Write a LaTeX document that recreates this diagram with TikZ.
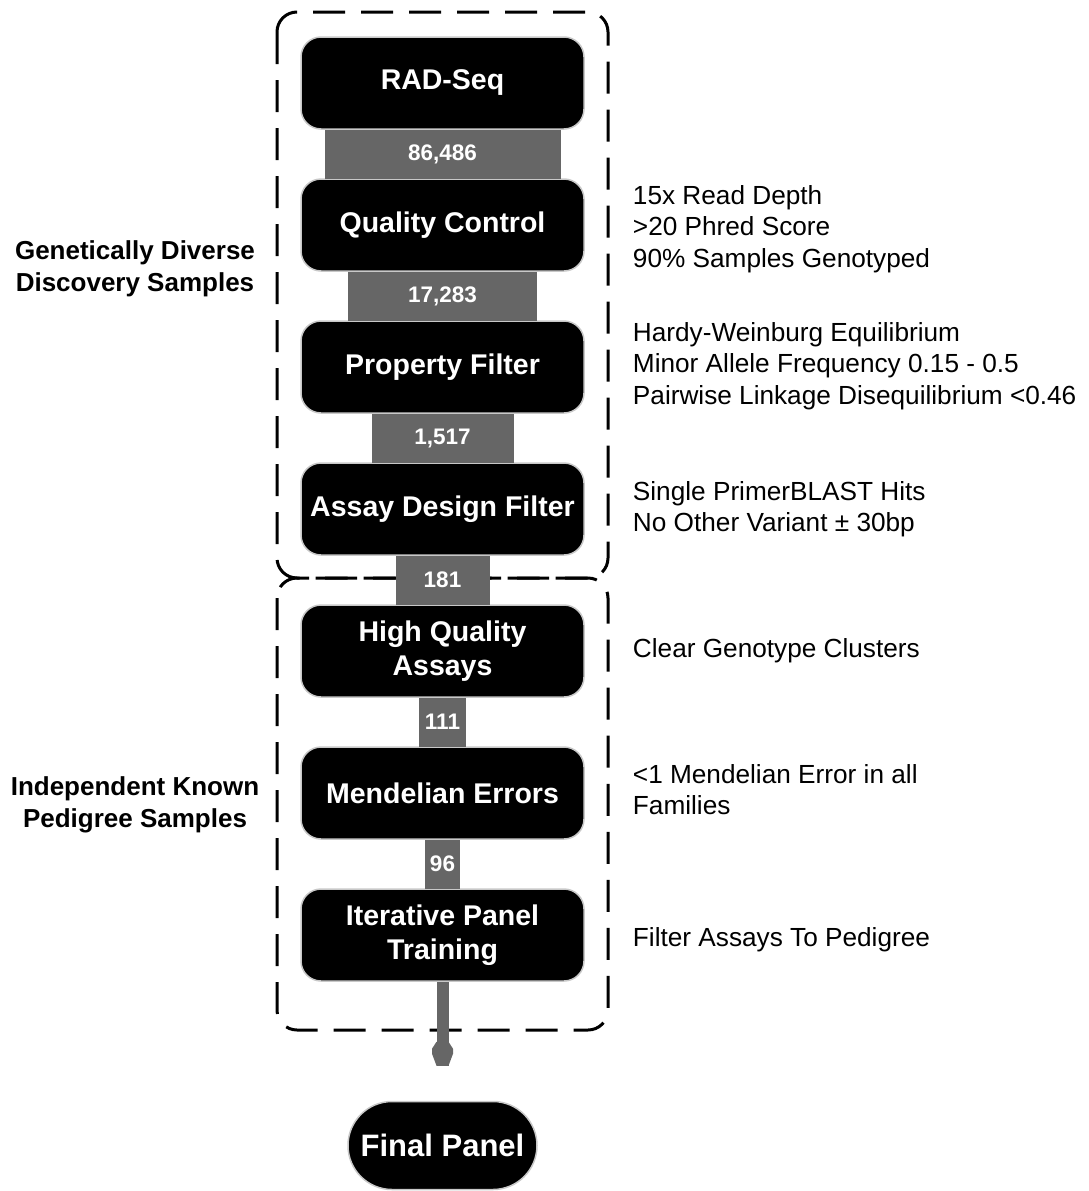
\documentclass[tikz,border=0pt]{standalone}
\usepackage{fontspec}
\setmainfont{Liberation Sans}
\usetikzlibrary{positioning,calc}
\definecolor{bargray}{HTML}{666666}
\definecolor{rimgray}{HTML}{C8C8C8}

\tikzstyle{stage} = [rectangle, rounded corners=20pt, draw=rimgray, line width=1.5pt, fill=black, text=white, font=\fontsize{28.5}{34}\selectfont\bfseries, minimum width=283pt, minimum height=92pt, align=center, inner sep=0pt]
\tikzstyle{tally} = [rectangle, fill=bargray, text=white, font=\fontsize{22.5}{27}\selectfont\bfseries, minimum height=49pt, inner sep=0pt]
\tikzstyle{note} = [font=\fontsize{26.2}{31.5}\selectfont, align=left, inner sep=0pt]
\tikzstyle{side} = [font=\fontsize{26}{31.5}\selectfont\bfseries, align=center, inner sep=0pt]
\tikzstyle{frame} = [draw=black, line width=3pt, dash pattern=on 32pt off 16pt, rounded corners=20pt]
\tikzstyle{finish} = [rectangle, rounded corners=44pt, draw=rimgray, line width=1.5pt, fill=black, text=white, font=\fontsize{31}{36}\selectfont\bfseries, minimum width=189pt, minimum height=88pt, inner sep=0pt]

\begin{document}
\begin{tikzpicture}[x=1pt, y=-1pt, node distance=142pt]
\useasboundingbox (0,0) rectangle (1088,1191);
% dashed sample groups
\draw [frame] (277,12) rectangle (608,578);
\draw [frame] (277,578) rectangle (608,1030);

% pipeline
\node [stage] (rad) at (442.5,83) {RAD-Seq};
\node [stage] (qc) [below of=rad] {Quality Control};
\node [stage] (pf) [below of=qc] {Property Filter};
\node [stage] (adf) [below of=pf] {Assay Design Filter};
\node [stage] (hqa) [below of=adf] {High Quality\\Assays};
\node [stage] (me) [below of=hqa] {Mendelian Errors};
\node [stage] (ipt) [below of=me] {Iterative Panel\\Training};
\node [finish] (fp) [below=119pt of ipt] {Final Panel};

% counts
\node [tally, minimum width=236pt] (c1) at ($(rad)!.5!(qc)$) {86,486};
\node [tally, minimum width=189pt] (c2) at ($(qc)!.5!(pf)$) {17,283};
\node [tally, minimum width=142pt] (c3) at ($(pf)!.5!(adf)$) {1,517};
\node [tally, minimum width=94pt] (c4) at ($(adf)!.5!(hqa)$) {181};
\node [tally, minimum width=47pt] (c5) at ($(hqa)!.5!(me)$) {111};
\node [tally, minimum width=35pt] (c6) at ($(me)!.5!(ipt)$) {96};

% final arrow
\coordinate [above=35pt of fp] (tip);
\draw [draw=bargray, line width=12pt] (ipt.south) -- (tip);
\fill [bargray] (tip) ++(-6,0) -- ++(-4.5,-12) -- ++(0,-5) -- ++(4.5,-7) -- ++(12,0) -- ++(4.5,7) -- ++(0,5) -- ++(-4.5,12) -- cycle;

% criteria
\node [note, right=48pt of qc, yshift=-4pt] (qcnote) {15x Read Depth\\>20 Phred Score\\90\% Samples Genotyped};
\node [note, right=48pt of pf, yshift=1pt] (pfnote) {Hardy-Weinburg Equilibrium\\Minor Allele Frequency 0.15 - 0.5\\Pairwise Linkage Disequilibrium <0.46};
\node [note, right=48pt of adf] (adfnote) {Single PrimerBLAST Hits\\No Other Variant ± 30bp};
\node [note, right=48pt of hqa] (hqanote) {Clear Genotype Clusters};
\node [note, right=48pt of me, yshift=3.5pt] (menote) {<1 Mendelian Error in all\\Families};
\node [note, right=48pt of ipt, yshift=-5pt] (iptnote) {Filter Assays To Pedigree};

% sample sets
\node [side] (disc) at (135,269) {Genetically Diverse\\Discovery Samples};
\node [side] (ped) at (135,805) {Independent Known\\Pedigree Samples};
\end{tikzpicture}
\end{document}
